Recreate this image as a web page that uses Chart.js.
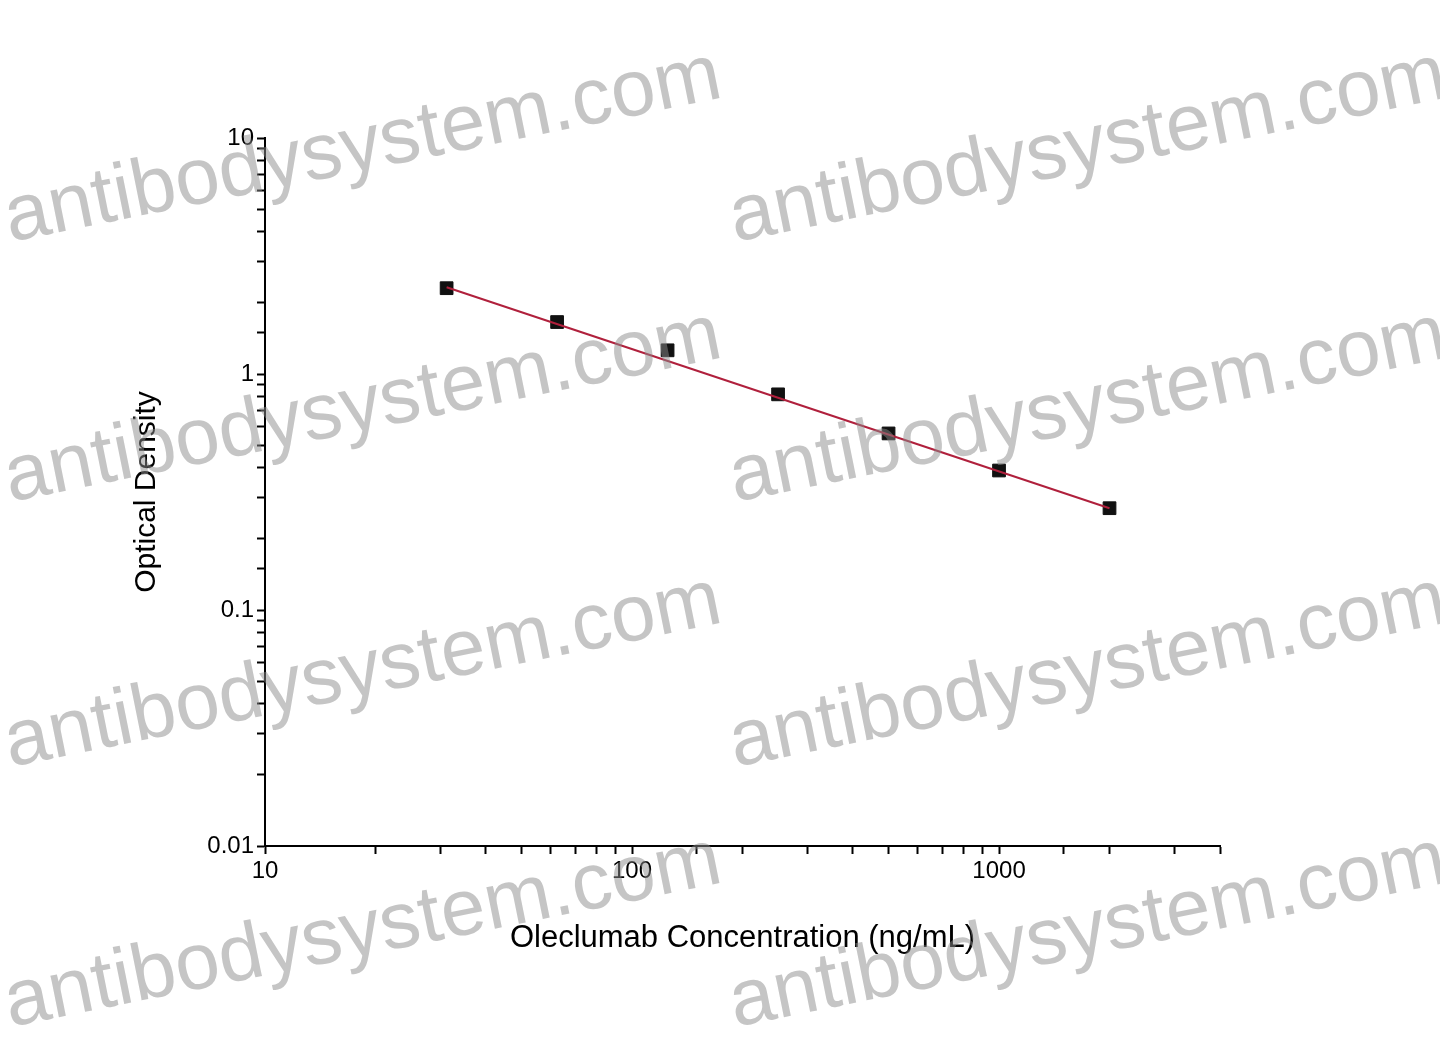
<!DOCTYPE html>
<html>
<head>
<meta charset="utf-8">
<script src="https://cdn.jsdelivr.net/npm/chart.js@4"></script>
<style>
  html, body { margin: 0; padding: 0; background: #fff; }
  #wrap { width: 1440px; height: 1046px; }
</style>
</head>
<body>
<div id="wrap"><canvas id="odChart"></canvas></div>
<script>
// Data
const concentrations = [31.25, 62.5, 125, 250, 500, 1000, 2000];
const densities = [2.31, 1.66, 1.26, 0.82, 0.56, 0.39, 0.27];
const fitX = [31.25, 2000];
const fitY = [2.33, 0.27];
const watermarkText = 'antibodysystem.com';

// watermark plugin, drawn on top like the original
const watermark = {
  id: 'watermark',
  afterDraw(chart) {
    const c = chart.ctx;
    c.save();
    c.font = '80px "Liberation Sans", Arial, sans-serif';
    c.fillStyle = 'rgba(140,140,140,0.5)';
    const spots = [[10, 242], [735, 242], [10, 502], [735, 502], [10, 767], [735, 767], [10, 1027], [735, 1027]];
    spots.forEach(([x, y]) => {
      c.save();
      c.translate(x, y);
      c.rotate(-0.2);
      c.fillText(watermarkText, 0, 0);
      c.restore();
    });
    c.restore();
  }
};

const ctx = document.getElementById('odChart').getContext('2d');
new Chart(ctx, {
  type: 'scatter',
  data: {
    datasets: [
      {
        label: 'Fit',
        data: fitX.map((x, i) => ({ x, y: fitY[i] })),
        showLine: true,
        borderColor: '#b0203c',
        borderWidth: 2,
        pointRadius: 0
      },
      {
        label: 'OD',
        data: concentrations.map((x, i) => ({ x, y: densities[i] })),
        pointStyle: 'rect',
        pointRadius: 9,
        backgroundColor: '#111',
        borderColor: '#111'
      }
    ]
  },
  options: {
    responsive: true,
    maintainAspectRatio: false,
    animation: false,
    layout: { padding: { left: 125, top: 138, right: 220, bottom: 85 } },
    plugins: { legend: { display: false }, tooltip: { enabled: false } },
    scales: {
      x: {
        type: 'logarithmic',
        min: 10, max: 4000,
        afterFit(s) { s.height = 115; },
        border: { color: '#000', width: 2 },
        grid: { drawOnChartArea: false, color: '#000', tickLength: 8, tickWidth: 2 },
        ticks: {
          color: '#000', font: { size: 24, family: 'Liberation Sans' }, maxRotation: 0, autoSkip: false,
          callback(v) { return [10, 100, 1000].includes(v) ? String(v) : ''; }
        },
        title: {
          display: true, text: 'Oleclumab Concentration (ng/mL)', color: '#000',
          font: { size: 31, family: 'Liberation Sans' }, padding: { top: 20 }
        }
      },
      y: {
        type: 'logarithmic',
        min: 0.01, max: 10,
        afterFit(s) { s.width = 140; },
        border: { color: '#000', width: 2 },
        grid: { drawOnChartArea: false, color: '#000', tickLength: 8, tickWidth: 2 },
        ticks: {
          color: '#000', font: { size: 24, family: 'Liberation Sans' }, autoSkip: false,
          callback(v) { return [0.01, 0.1, 1, 10].includes(v) ? String(v) : ''; }
        },
        title: {
          display: true, text: 'Optical Density', color: '#000',
          font: { size: 30, family: 'Liberation Sans' }, padding: { bottom: 10 }
        }
      }
    }
  },
  plugins: [watermark]
});
</script>
</body>
</html>
